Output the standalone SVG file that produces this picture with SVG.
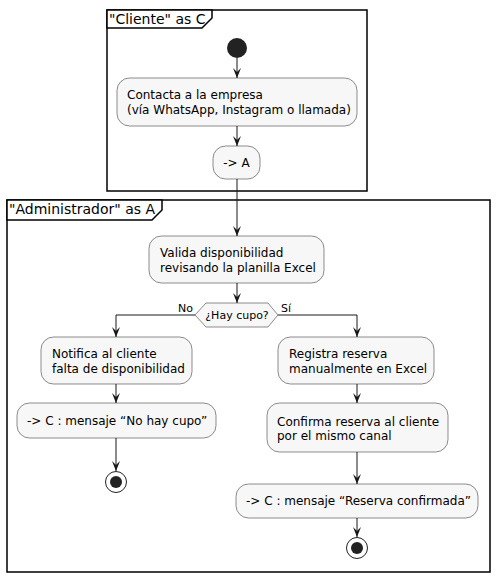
<svg xmlns="http://www.w3.org/2000/svg" width="496" height="576" viewBox="0 0 496 576">
<style>
.frame{fill:none;stroke:#000;stroke-width:1.5}
.tab{fill:#fff;stroke:#000;stroke-width:1.5}
.ftitle{font-family:"DejaVu Sans",sans-serif;font-size:14px;fill:#000}
.act{fill:#F7F7F7;stroke:#181818;stroke-width:0.5}
.txt{font-family:"DejaVu Sans",sans-serif;font-size:12px;fill:#000}
.small{font-family:"DejaVu Sans",sans-serif;font-size:11px;fill:#000}
.edge{fill:none;stroke:#181818;stroke-width:1}
</style>
<defs>
<marker id="arr" markerUnits="userSpaceOnUse" markerWidth="10" markerHeight="10" refX="10" refY="5" orient="auto">
<path d="M10,5 L0,1 L4,5 L0,9 Z" fill="#181818"/>
</marker>
</defs>
<rect width="496" height="576" fill="#fff"/>
<g id="frame-cliente">
<rect class="frame" x="107" y="10" width="260" height="181"/>
<path class="tab" d="M107,10 L212,10 L212,18 L202,28 L107,28 Z"/>
<text class="ftitle" x="109" y="24">"Cliente" as C</text>
</g>
<g id="frame-admin">
<rect class="frame" x="7" y="200" width="483" height="372"/>
<path class="tab" d="M7,200 L162,200 L162,210 L152,220 L7,220 Z"/>
<text class="ftitle" x="9" y="214">"Administrador" as A</text>
</g>
<g id="connectors">
<line class="edge" x1="237" y1="58" x2="237" y2="78" marker-end="url(#arr)"/>
<line class="edge" x1="237" y1="126" x2="237" y2="146" marker-end="url(#arr)"/>
<line class="edge" x1="237" y1="179" x2="237" y2="236" marker-end="url(#arr)"/>
<line class="edge" x1="237" y1="283" x2="237" y2="303" marker-end="url(#arr)"/>
<polyline class="edge" points="195,315 116,315 116,337" marker-end="url(#arr)"/>
<polyline class="edge" points="278,315 357,315 357,337" marker-end="url(#arr)"/>
<line class="edge" x1="116" y1="384" x2="116" y2="403" marker-end="url(#arr)"/>
<line class="edge" x1="116" y1="438" x2="116" y2="471" marker-end="url(#arr)"/>
<line class="edge" x1="357" y1="384" x2="357" y2="403" marker-end="url(#arr)"/>
<line class="edge" x1="357" y1="452" x2="357" y2="484" marker-end="url(#arr)"/>
<line class="edge" x1="357" y1="518" x2="357" y2="537" marker-end="url(#arr)"/>
<text class="small" x="178" y="312">No</text>
<text class="small" x="281" y="312">Sí</text>
</g>
<g id="start">
<circle cx="237" cy="48" r="10" fill="#222"/>
</g>
<g id="contacta">
<rect class="act" x="117" y="78" width="240" height="48" rx="12.5"/>
<text class="txt" x="127" y="99">Contacta a la empresa</text>
<text class="txt" x="127" y="114">(vía WhatsApp, Instagram o llamada)</text>
</g>
<g id="to-a">
<rect class="act" x="213" y="146" width="47" height="33" rx="12.5"/>
<text class="txt" x="236.5" y="167" text-anchor="middle">-&gt; A</text>
</g>
<g id="valida">
<rect class="act" x="149" y="236" width="175" height="47" rx="12.5"/>
<text class="txt" x="160" y="257">Valida disponibilidad</text>
<text class="txt" x="160" y="272">revisando la planilla Excel</text>
</g>
<g id="decision">
<polygon class="act" points="195,315 206,303 268,303 278,315 268,327 206,327"/>
<text class="small" x="237" y="319" text-anchor="middle">¿Hay cupo?</text>
</g>
<g id="notifica">
<rect class="act" x="41" y="337" width="151" height="47" rx="12.5"/>
<text class="txt" x="52" y="358">Notifica al cliente</text>
<text class="txt" x="52" y="373">falta de disponibilidad</text>
</g>
<g id="msg-no">
<rect class="act" x="17" y="403" width="199" height="35" rx="12.5"/>
<text class="txt" x="27" y="425">-&gt; C : mensaje “No hay cupo”</text>
</g>
<g id="end-no">
<circle cx="116" cy="482" r="10.5" fill="#fff" stroke="#222" stroke-width="1"/>
<circle cx="116" cy="482" r="6" fill="#222"/>
</g>
<g id="registra">
<rect class="act" x="278" y="337" width="156" height="47" rx="12.5"/>
<text class="txt" x="289" y="358">Registra reserva</text>
<text class="txt" x="289" y="373">manualmente en Excel</text>
</g>
<g id="confirma">
<rect class="act" x="267" y="403" width="181" height="49" rx="12.5"/>
<text class="txt" x="277" y="426">Confirma reserva al cliente</text>
<text class="txt" x="277" y="440">por el mismo canal</text>
</g>
<g id="msg-si">
<rect class="act" x="236" y="484" width="242" height="34" rx="12.5"/>
<text class="txt" x="246" y="505">-&gt; C : mensaje “Reserva confirmada”</text>
</g>
<g id="end-si">
<circle cx="357" cy="548" r="10.5" fill="#fff" stroke="#222" stroke-width="1"/>
<circle cx="357" cy="548" r="6" fill="#222"/>
</g>
</svg>
